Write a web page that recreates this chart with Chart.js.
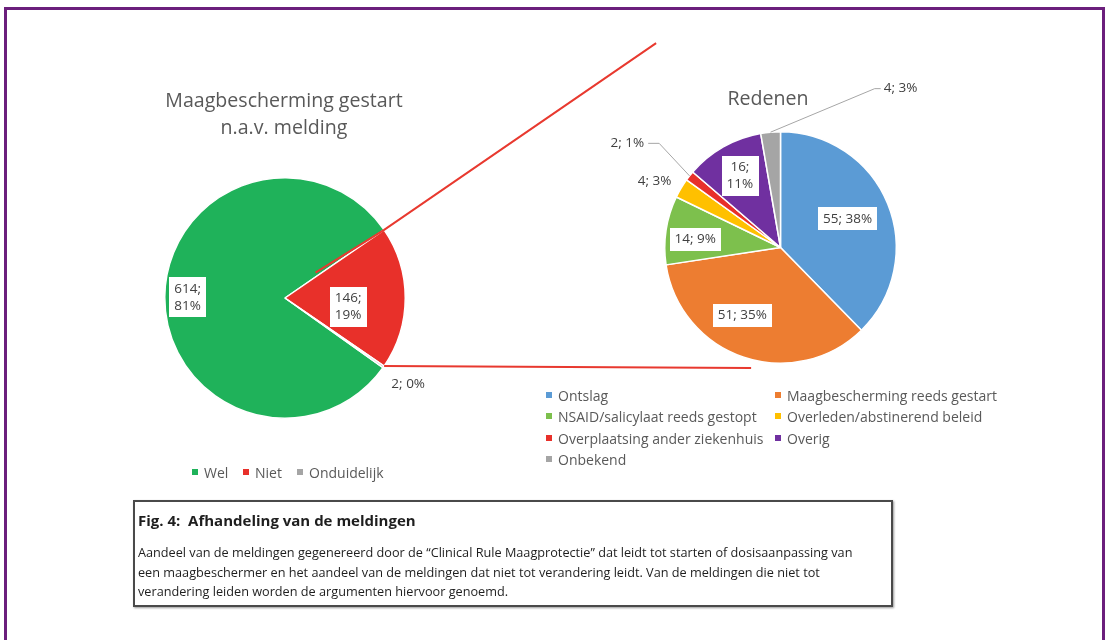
<!DOCTYPE html>
<html><head><meta charset="utf-8">
<script src="https://cdn.jsdelivr.net/npm/chart.js@4.4.1/dist/chart.umd.min.js"></script>
<style>
html,body{margin:0;padding:0;background:#fff;}
#wrap{position:relative;width:1107px;height:640px;overflow:hidden;font-family:"Open Sans",sans-serif;color:#595959;}
#frame{position:absolute;left:4px;top:7px;width:1101px;height:700px;border:3px solid #6b1f7c;border-bottom:none;box-sizing:border-box;}
canvas{position:absolute;left:0;top:0;}
.title{position:absolute;text-align:center;font-size:19.6px;line-height:27px;color:#595959;white-space:nowrap;}
.leg{position:absolute;font-size:14px;color:#595959;white-space:nowrap;}
.leg .it{position:absolute;display:flex;align-items:center;height:20px;}
.leg .mk{width:6px;height:6px;margin-right:6px;}
#cap{position:absolute;left:133px;top:500px;width:760px;height:107px;border:2px solid #4a4a4a;box-sizing:border-box;box-shadow:1px 1px 2px #999;color:#1e1e1e;}
#cap .h{position:absolute;left:3px;top:8px;font-size:15px;font-weight:bold;white-space:pre;}
#cap .b{position:absolute;left:3px;top:41px;font-size:12.7px;line-height:19.5px;white-space:nowrap;}
</style></head>
<body>
<div id="wrap">
  <div id="frame"></div>
  <canvas id="cL" width="1107" height="640"></canvas>
  <canvas id="cR" width="1107" height="640"></canvas>
  <div class="title" style="left:134px;top:86px;width:300px;">Maagbescherming gestart<br>n.a.v. melding</div>
  <div class="title" style="left:668px;top:84px;width:200px;">Redenen</div>
  <div class="leg" id="legL"></div>
  <div class="leg" id="legR"></div>
  <div id="cap">
    <div class="h">Fig. 4:  Afhandeling van de meldingen</div>
    <div class="b">Aandeel van de meldingen gegenereerd door de “Clinical Rule Maagprotectie” dat leidt tot starten of dosisaanpassing van<br>een maagbeschermer en het aandeel van de meldingen dat niet tot verandering leidt. Van de meldingen die niet tot<br>verandering leiden worden de argumenten hiervoor genoemd.</div>
  </div>
</div>
<script>
// ---- data ----
const leftLabels = ['Wel', 'Niet', 'Onduidelijk'];
const leftValues = [614, 146, 2];
const leftPct = ['81%', '19%', '0%'];

const rightLabels = ['Ontslag', 'Maagbescherming reeds gestart', 'NSAID/salicylaat reeds gestopt',
  'Overleden/abstinerend beleid', 'Overplaatsing ander ziekenhuis', 'Overig', 'Onbekend'];
const rightValues = [55, 51, 14, 4, 2, 16, 4];
const rightPct = ['38%', '35%', '9%', '3%', '1%', '11%', '3%'];

// ---- styles ----
const leftColors = ['#1fb25a', '#e8302a', '#a5a5a5'];
const rightColors = ['#5b9bd5', '#ed7d31', '#7dc04d', '#ffc000', '#e8302a', '#7030a0', '#a5a5a5'];
// label placement: angle offset (deg), radius factor, box, wrap, leader side
const leftLabelCfg = [
  {da: 0, f: 0.81, box: true, wrap: true},
  {da: 8, f: 0.53, box: true, wrap: true},
  {da: 0, f: 1.25, box: false, wrap: false}
];
const rightLabelCfg = [
  {da: -1, f: 0.63, box: true, wrap: false},
  {da: 11, f: 0.67, box: true, wrap: false},
  {da: -3, f: 0.74, box: true, wrap: false},
  {da: -3, f: 1.23, box: false, wrap: false},
  {da: -4, f: 1.60, box: false, wrap: false, leader: 'right'},
  {da: 0, f: 0.71, box: true, wrap: true},
  {da: 42, f: 1.72, box: false, wrap: false, leader: 'left'}
];
const labelFont = '13.5px "Open Sans"';
const labelColor = '#404040';

function makeTexts(values, pct, cfg) {
  return values.map((v, i) => cfg[i].wrap ? [v + ';', pct[i]] : [v + '; ' + pct[i]]);
}

function labelPlugin(cfg, texts) {
  return {
    id: 'sliceLabels',
    afterDatasetsDraw(chart) {
      const ctx = chart.ctx;
      const meta = chart.getDatasetMeta(0);
      ctx.save();
      ctx.font = labelFont;
      ctx.textAlign = 'center';
      ctx.textBaseline = 'middle';
      meta.data.forEach((arc, i) => {
        const p = arc.getProps(['x', 'y', 'startAngle', 'endAngle', 'outerRadius'], true);
        const c = cfg[i];
        const mid0 = (p.startAngle + p.endAngle) / 2;
        const mid = mid0 + c.da * Math.PI / 180;
        const cx = p.x + Math.cos(mid) * p.outerRadius * c.f;
        const cy = p.y + Math.sin(mid) * p.outerRadius * c.f;
        const lines = texts[i];
        const lh = 17;
        const w = Math.max(...lines.map(t => ctx.measureText(t).width));
        const h = lines.length * lh;
        if (c.box) {
          ctx.fillStyle = '#ffffff';
          ctx.fillRect(Math.round(cx - w / 2 - 5), Math.round(cy - h / 2 - 3), Math.round(w + 10), Math.round(h + 6));
        }
        if (c.leader) {
          const ex = p.x + Math.cos(mid0) * p.outerRadius;
          const ey = p.y + Math.sin(mid0) * p.outerRadius;
          ctx.strokeStyle = '#a6a6a6';
          ctx.lineWidth = 1;
          ctx.beginPath();
          if (c.leader === 'right') {
            ctx.moveTo(cx + w / 2 + 4, cy);
            ctx.lineTo(cx + w / 2 + 15, cy);
          } else {
            ctx.moveTo(cx - w / 2 - 3, cy);
            ctx.lineTo(cx - w / 2 - 9, cy);
          }
          ctx.lineTo(ex, ey);
          ctx.stroke();
        }
        ctx.fillStyle = labelColor;
        lines.forEach((t, k) => ctx.fillText(t, cx, cy - h / 2 + lh / 2 + k * lh));
      });
      ctx.restore();
    }
  };
}

// series lines from the "Niet" slice to the second pie
const seriesLinePlugin = {
  id: 'seriesLines',
  afterDatasetsDraw(chart) {
    const arc = chart.getDatasetMeta(0).data[1];
    const p = arc.getProps(['x', 'y', 'startAngle', 'endAngle', 'outerRadius'], true);
    const ctx = chart.ctx;
    const r = p.outerRadius;
    const sx = p.x + Math.cos(p.startAngle) * r, sy = p.y + Math.sin(p.startAngle) * r;
    const ix = p.x + Math.cos(p.startAngle - 0.09) * r * 0.33, iy = p.y + Math.sin(p.startAngle - 0.09) * r * 0.33;
    const ox = sx + Math.cos(p.startAngle) * 330, oy = sy + Math.sin(p.startAngle) * 330;
    const bx = p.x + Math.cos(p.endAngle) * r, by = p.y + Math.sin(p.endAngle) * r;
    ctx.save();
    ctx.strokeStyle = '#e8392f';
    ctx.lineWidth = 2;
    ctx.beginPath();
    ctx.moveTo(ix, iy); ctx.lineTo(sx, sy); ctx.lineTo(ox, oy);
    ctx.moveTo(bx, by); ctx.lineTo(bx + 367, by + 2);
    ctx.stroke();
    ctx.restore();
  }
};

const T = leftValues.reduce((a, b) => a + b, 0);
// rotate so the "Niet" slice is centred on the 3 o'clock direction
const leftRotation = 90 + 360 - 360 * (leftValues[0] + leftValues[1] / 2) / T;

new Chart(document.getElementById('cL'), {
  type: 'pie',
  data: {labels: leftLabels, datasets: [{data: leftValues, backgroundColor: leftColors, borderColor: '#ffffff', borderWidth: 1.5}]},
  options: {
    responsive: false, animation: false, devicePixelRatio: 1, events: [],
    rotation: leftRotation,
    layout: {padding: {left: 164, top: 177, right: 701, bottom: 221}},
    plugins: {legend: {display: false}, tooltip: {enabled: false}, title: {display: false}}
  },
  plugins: [seriesLinePlugin, labelPlugin(leftLabelCfg, makeTexts(leftValues, leftPct, leftLabelCfg))]
});

new Chart(document.getElementById('cR'), {
  type: 'pie',
  data: {labels: rightLabels, datasets: [{data: rightValues, backgroundColor: rightColors, borderColor: '#ffffff', borderWidth: 1.5}]},
  options: {
    responsive: false, animation: false, devicePixelRatio: 1, events: [],
    rotation: 0,
    layout: {padding: {left: 664, top: 131, right: 210, bottom: 276}},
    plugins: {legend: {display: false}, tooltip: {enabled: false}, title: {display: false}}
  },
  plugins: [labelPlugin(rightLabelCfg, makeTexts(rightValues, rightPct, rightLabelCfg))]
});

// ---- legends (HTML, built from the arrays) ----
function buildLegend(el, labels, colors, pos) {
  labels.forEach((l, i) => {
    const it = document.createElement('div');
    it.className = 'it';
    it.style.left = pos[i][0] + 'px';
    it.style.top = pos[i][1] + 'px';
    const mk = document.createElement('span');
    mk.className = 'mk';
    mk.style.background = colors[i];
    const tx = document.createElement('span');
    tx.textContent = l;
    it.appendChild(mk); it.appendChild(tx);
    el.appendChild(it);
  });
}
buildLegend(document.getElementById('legL'), leftLabels, leftColors, [[192, 462], [243, 462], [297, 462]]);
buildLegend(document.getElementById('legR'), rightLabels, rightColors,
  [[546, 385], [775, 385], [546, 406], [775, 406], [546, 428], [775, 428], [546, 449]]);
</script>
</body></html>
